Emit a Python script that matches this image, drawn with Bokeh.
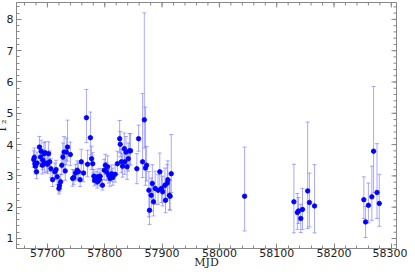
from bokeh.plotting import figure
from bokeh.models import ColumnDataSource, FixedTicker, Range1d
from bokeh.embed import file_html
from bokeh.resources import INLINE
import numpy as np

mjd = [57676, 57677, 57678, 57679, 57681, 57682, 57686, 57688, 57689, 57691,
       57692, 57694, 57695, 57696, 57699, 57700, 57702, 57704, 57706, 57709,
       57713, 57715, 57717, 57720, 57721, 57723, 57725, 57727, 57729, 57731,
       57733, 57735, 57740, 57744, 57746, 57749, 57752, 57754, 57757, 57759,
       57763, 57768, 57770, 57775, 57777, 57779, 57781, 57782, 57785, 57787,
       57788, 57791, 57792, 57796, 57799, 57801, 57803, 57805, 57807, 57809,
       57812, 57814, 57818, 57822, 57826, 57827, 57829, 57831, 57834, 57835,
       57837, 57839, 57841, 57843, 57845, 57856, 57859, 57866, 57869, 57871,
       57873, 57877, 57878, 57881, 57883, 57885, 57888, 57893, 57896, 57899,
       57901, 57905, 57906, 57909, 57910, 57913, 57914, 57916,
       58044, 58130, 58136, 58138, 58142, 58145, 58154, 58157, 58166,
       58252, 58255, 58260, 58266, 58269, 58275, 58279]

gamma2 = [3.52, 3.59, 3.39, 3.31, 3.13, 3.41, 3.92, 3.60, 3.79, 3.34,
          3.50, 3.71, 3.39, 3.74, 3.41, 3.37, 3.71, 3.45, 3.23, 2.88,
          3.13, 3.20, 2.97, 2.60, 2.69, 2.81, 3.34, 3.60, 3.76, 3.16,
          3.76, 3.92, 3.68, 2.92, 2.95, 3.09, 3.18, 3.13, 2.88, 3.45,
          3.09, 4.86, 3.37, 4.22, 3.55, 3.39, 2.99, 2.86, 2.92, 2.81,
          2.97, 2.88, 2.99, 2.70, 3.18, 3.34, 3.13, 3.29, 3.02, 2.92,
          3.07, 2.95, 3.05, 3.39, 4.19, 4.01, 3.45, 3.31, 3.87, 3.45,
          3.76, 3.29, 3.55, 3.80, 3.80, 3.23, 4.19, 3.45, 4.79, 3.25,
          3.34, 2.54, 1.90, 2.38, 2.76, 2.17, 2.60, 2.54, 3.13, 2.60,
          2.49, 2.70, 2.22, 2.77, 2.88, 2.38, 2.35, 3.07,
          2.35, 2.17, 1.83, 1.88, 1.64, 1.93, 2.52, 2.15, 2.04,
          2.24, 1.53, 2.06, 2.33, 3.79, 2.47, 2.12]

err_lo = [0.25, 0.28, 0.25, 0.25, 0.22, 0.3, 0.35, 0.3, 0.3, 0.28,
          0.3, 0.3, 0.28, 0.32, 0.28, 0.3, 0.33, 0.3, 0.28, 0.22,
          0.25, 0.25, 0.25, 0.18, 0.2, 0.22, 0.3, 0.35, 0.4, 0.3,
          0.4, 0.45, 0.35, 0.25, 0.22, 0.25, 0.28, 0.25, 0.22, 0.32,
          0.28, 0.8, 0.4, 0.55, 0.35, 0.3, 0.2, 0.18, 0.2, 0.2,
          0.22, 0.2, 0.2, 0.15, 0.3, 0.3, 0.28, 0.3, 0.25, 0.25,
          0.25, 0.25, 0.25, 0.35, 0.45, 0.4, 0.35, 0.35, 0.45, 0.4,
          0.4, 0.4, 0.4, 0.45, 0.45, 0.48, 0.4, 0.5, 0.9, 0.55,
          0.5, 0.85, 0.45, 0.5, 0.5, 0.45, 0.5, 0.45, 0.55, 0.45,
          0.45, 0.45, 0.4, 0.5, 0.5, 0.45, 0.45, 0.6,
          1.11, 0.99, 0.54, 0.40, 0.45, 0.64, 1.20, 0.78, 0.86,
          0.60, 0.50, 0.56, 0.75, 1.33, 0.83, 0.73]

err_hi = [0.28, 0.3, 0.3, 0.3, 0.25, 0.35, 0.34, 0.35, 0.35, 0.32,
          0.35, 0.35, 0.32, 0.35, 0.32, 0.35, 0.38, 0.35, 0.32, 0.25,
          0.28, 0.3, 0.28, 0.2, 0.22, 0.25, 0.35, 0.45, 0.5, 0.35,
          0.45, 0.86, 0.4, 0.28, 0.25, 0.28, 0.3, 0.28, 0.25, 0.4,
          0.3, 0.9, 0.45, 0.82, 0.4, 0.35, 0.22, 0.2, 0.22, 0.22,
          0.25, 0.22, 0.25, 0.18, 0.35, 0.35, 0.3, 0.35, 0.28, 0.28,
          0.28, 0.3, 0.3, 0.4, 0.58, 0.41, 0.4, 0.4, 0.5, 0.45,
          0.5, 0.45, 0.5, 0.55, 0.55, 0.48, 0.43, 2.18, 3.42, 1.95,
          0.6, 0.6, 0.5, 0.55, 0.6, 0.5, 0.55, 0.5, 0.6, 0.55,
          0.5, 0.55, 0.5, 0.6, 0.6, 0.5, 0.5, 1.25,
          1.57, 1.20, 0.61, 0.43, 0.45, 0.67, 2.20, 0.94, 1.32,
          0.73, 0.50, 0.71, 0.98, 2.07, 1.56, 0.93]

x_ticks = [57700, 57800, 57900, 58000, 58100, 58200, 58300]
y_ticks = [1, 2, 3, 4, 5, 6, 7, 8]
x_minor = list(np.arange(57660, 58309, 20))
y_minor = [round(v, 1) for v in np.arange(0.8, 8.54, 0.2)]

X0, X1 = 57646, 58309
Y0, Y1 = 0.68, 8.54

x = np.array(mjd, dtype=float)
y = np.array(gamma2)
src = ColumnDataSource(dict(x=x, y=y, lo=y - np.array(err_lo), hi=y + np.array(err_hi)))

p = figure(frame_width=380, frame_height=246, output_backend="svg", toolbar_location=None,
           x_range=Range1d(X0, X1), y_range=Range1d(Y0, Y1),
           min_border_left=21, min_border_top=2, min_border_right=11,
           min_border_bottom=0)
p.margin = (0, 0, -8, -8)
p.background_fill_color = "white"
p.border_fill_color = "white"
p.outline_line_color = "#888888"
p.xgrid.visible = False
p.ygrid.visible = False

err_col = "#7070ff"
p.segment(x0="x", y0="lo", x1="x", y1="hi", source=src, line_color=err_col,
          line_width=1, line_alpha=0.6)
p.scatter(x="x", y="lo", source=src, marker="dash", size=4, line_color=err_col,
          line_alpha=0.6)
p.scatter(x="x", y="hi", source=src, marker="dash", size=4, line_color=err_col,
          line_alpha=0.6)
p.scatter(x="x", y="y", source=src, marker="circle", size=4.5, line_width=0.8,
          fill_color="#0000ff", line_color="#0000ff")

# mirrored ticks on the top and right edges of the frame
tick_col = "#888888"
p.scatter(x=x_ticks, y=[Y1] * len(x_ticks), marker="dash", angle=np.pi / 2,
          size=10, line_color=tick_col)
p.scatter(x=x_minor, y=[Y1] * len(x_minor), marker="dash", angle=np.pi / 2,
          size=6, line_color=tick_col)
p.scatter(x=[X1] * len(y_ticks), y=y_ticks, marker="dash",
          size=10, line_color=tick_col)
p.scatter(x=[X1] * len(y_minor), y=y_minor, marker="dash",
          size=6, line_color=tick_col)

p.xaxis.ticker = FixedTicker(ticks=x_ticks, minor_ticks=x_minor)
p.yaxis.ticker = FixedTicker(ticks=y_ticks, minor_ticks=y_minor)
p.xaxis.axis_label = "MJD"
p.yaxis.axis_label = "Γ₂"
for ax in (p.xaxis[0], p.yaxis[0]):
    ax.axis_line_color = tick_col
    ax.major_tick_line_color = tick_col
    ax.minor_tick_line_color = tick_col
    ax.major_tick_in = 5
    ax.major_tick_out = 0
    ax.minor_tick_in = 3
    ax.minor_tick_out = 0
    ax.major_label_text_font = "DejaVu Sans"
    ax.major_label_text_font_size = "11px"
    ax.major_label_text_color = "#222222"
    ax.axis_label_text_font = "DejaVu Serif"
    ax.axis_label_text_font_size = "11px"
    ax.axis_label_text_font_style = "normal"
    ax.axis_label_text_color = "#222222"
p.xaxis.major_label_standoff = 0
p.xaxis.axis_label_standoff = -4
p.yaxis.major_label_standoff = 3
p.yaxis.axis_label_standoff = -5

open("out.html", "w").write(file_html(p, INLINE))
